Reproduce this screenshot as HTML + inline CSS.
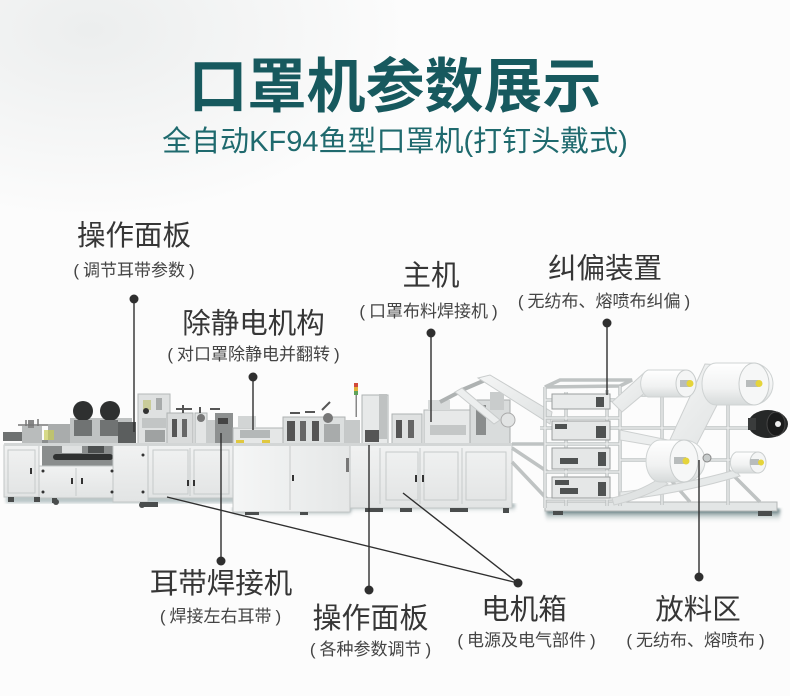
<!DOCTYPE html>
<html><head><meta charset="utf-8">
<style>
html,body{margin:0;padding:0;}
body{width:790px;height:696px;position:relative;overflow:hidden;background:#fcfcfc;font-family:"Liberation Sans","Noto Sans CJK SC",sans-serif;}
.bg{position:absolute;left:0;top:0;width:790px;height:696px;background:radial-gradient(ellipse 320px 190px at 90px 30px,#eceeee 0%,rgba(252,252,252,0) 100%);}
.t{position:absolute;width:400px;text-align:center;white-space:nowrap;line-height:1;}
.h{font-size:28.5px;color:#363636;}
.s{font-size:17px;color:#444;}
.s i{font-style:normal;margin:0 4px;}
.title{position:absolute;left:0;width:790px;text-align:center;white-space:nowrap;line-height:1;}
</style></head><body>
<div class="bg"></div>

<svg width="790" height="696" viewBox="0 0 790 696" style="position:absolute;left:0;top:0">
<defs>
<linearGradient id="cab" x1="0" y1="0" x2="0" y2="1"><stop offset="0" stop-color="#f1f2f2"/><stop offset="1" stop-color="#e2e4e4"/></linearGradient>
<linearGradient id="cab2" x1="0" y1="0" x2="1" y2="0"><stop offset="0" stop-color="#f5f6f6"/><stop offset="1" stop-color="#e5e7e7"/></linearGradient>
<linearGradient id="sh" x1="0" y1="0" x2="0" y2="1"><stop offset="0" stop-color="#2c4f53"/><stop offset="1" stop-color="#fcfcfc" stop-opacity="0"/></linearGradient>
<linearGradient id="rollg" x1="0" y1="0" x2="0" y2="1"><stop offset="0" stop-color="#ffffff"/><stop offset="0.6" stop-color="#f1f2f2"/><stop offset="1" stop-color="#d6dada"/></linearGradient>
<linearGradient id="band" x1="0" y1="0" x2="1" y2="1"><stop offset="0" stop-color="#f4f5f5"/><stop offset="1" stop-color="#dfe2e2"/></linearGradient>
<filter id="b2"><feGaussianBlur stdDeviation="1.5"/></filter>
</defs>

<!-- floor shadows -->
<rect x="6" y="494" width="230" height="9" fill="#8fa3a5" filter="url(#b2)" opacity="0.6"/>
<rect x="233" y="508" width="118" height="9" fill="url(#sh)" filter="url(#b2)"/>
<rect x="350" y="504" width="165" height="9" fill="url(#sh)" filter="url(#b2)" opacity="0.75"/>
<rect x="546" y="509" width="234" height="14" fill="url(#sh)" filter="url(#b2)"/>

<!-- upper mechanisms left -->
<rect x="3" y="432" width="22" height="9" fill="#6e7171"/>
<rect x="22" y="426" width="20" height="19" fill="#b9bcbc"/>
<rect x="28" y="420" width="6" height="8" fill="#888"/>
<path d="M18 425 h30 M26 420 v6 M38 419 v7" stroke="#777" stroke-width="1.5"/>
<rect x="42" y="440" width="72" height="27" fill="#8a8d8d"/>
<rect x="48" y="424" width="22" height="20" fill="#a9acac"/>
<rect x="70" y="418" width="62" height="27" fill="#bfc2c2"/>
<circle cx="83" cy="411" r="10" fill="#2e3030"/>
<circle cx="110" cy="411" r="10" fill="#2e3030"/>
<rect x="74" y="420" width="18" height="16" fill="#707373"/>
<rect x="100" y="420" width="18" height="16" fill="#707373"/>
<rect x="118" y="422" width="18" height="22" fill="#5b5e5e"/>
<rect x="53" y="454" width="60" height="6" rx="3" fill="#2f3131"/>
<rect x="62" y="444" width="20" height="9" fill="#dfe1e1"/>
<rect x="88" y="446" width="16" height="7" fill="#4c4f4f"/>
<rect x="44" y="430" width="10" height="10" fill="#c8cc55" opacity="0.7"/>
<rect x="138" y="394" width="32" height="51" fill="#dfe1e1" stroke="#b5b9b9"/>
<rect x="143" y="400" width="8" height="10" fill="#c9cc99"/>
<rect x="156" y="398" width="6" height="12" fill="#a8abab"/>
<circle cx="146" cy="411" r="3" fill="#333"/>
<rect x="142" y="418" width="24" height="10" fill="#c2c5c5"/>
<rect x="145" y="430" width="20" height="12" fill="#9fa2a2"/>
<rect x="167" y="413" width="26" height="32" fill="#d9dbdb" stroke="#aeb2b2"/>
<rect x="172" y="419" width="5" height="18" fill="#555"/>
<rect x="182" y="419" width="5" height="18" fill="#666"/>
<rect x="195" y="413" width="12" height="32" fill="#e3e5e5" stroke="#aeb2b2"/>
<circle cx="201" cy="418" r="4" fill="#777"/>
<rect x="207" y="420" width="8" height="25" fill="#c8cbcb"/>
<rect x="215" y="413" width="18" height="32" fill="#8d9090"/>
<rect x="218" y="418" width="10" height="6" fill="#444"/>
<path d="M176 409 h16 M200 407 v6 M183 405 v8 M210 409 h10" stroke="#555" stroke-width="2"/>

<!-- upper mechanisms middle -->
<rect x="233" y="428" width="50" height="16" fill="#e5e7e7" stroke="#b1b5b5"/>
<rect x="238" y="416" width="18" height="12" fill="#d2d5d5"/>
<rect x="240" y="430" width="30" height="8" fill="#b4b8b8"/>
<rect x="236" y="440" width="8" height="4" fill="#e0c840"/>
<rect x="262" y="440" width="8" height="4" fill="#e0c840"/>
<rect x="283" y="417" width="62" height="27" fill="#dcdfdf" stroke="#aeb2b2"/>
<rect x="287" y="421" width="8" height="20" fill="#555"/>
<rect x="300" y="421" width="6" height="20" fill="#666"/>
<rect x="312" y="421" width="7" height="20" fill="#555"/>
<rect x="324" y="424" width="16" height="18" fill="#a8abab"/>
<circle cx="328" cy="418" r="5" fill="#777"/>
<path d="M290 413 h10 M305 412 h10 M322 410 l8 -8" stroke="#555" stroke-width="2"/>
<rect x="345" y="420" width="15" height="24" fill="#c6c9c9"/>
<rect x="354" y="383" width="4" height="4" fill="#d24a3a"/>
<rect x="354" y="387" width="4" height="4" fill="#e2b23a"/>
<rect x="354" y="391" width="4" height="4" fill="#5fa35a"/>
<rect x="355.5" y="395" width="1.5" height="22" fill="#888"/>
<rect x="362" y="395" width="26" height="50" fill="#e7e9e9" stroke="#aeb2b2"/>
<rect x="379" y="394" width="8" height="45" fill="#bfc2c2"/>
<rect x="365" y="430" width="14" height="12" fill="#555"/>
<rect x="392" y="414" width="30" height="30" fill="#dfe1e1" stroke="#aeb2b2"/>
<rect x="396" y="420" width="6" height="18" fill="#555"/>
<rect x="408" y="420" width="6" height="18" fill="#666"/>
<rect x="424" y="410" width="46" height="34" fill="#e7e9e9" stroke="#b3b7b7"/>
<rect x="428" y="400" width="22" height="10" fill="#d8dbdb"/>
<rect x="430" y="425" width="36" height="10" fill="#c4c7c7"/>
<path d="M440 402 L463 390 M462 390 L490 378" stroke="#aeb2b2" stroke-width="4"/>
<rect x="470" y="400" width="40" height="44" fill="#d9dcdc" stroke="#a9adad"/>
<rect x="476" y="405" width="10" height="30" fill="#8a8d8d"/>
<rect x="490" y="392" width="14" height="18" fill="#c9cccc"/>
<circle cx="508" cy="420" r="7" fill="#e2e4e4" stroke="#aaa"/>
<!-- web band from machine to frame -->
<polygon points="478,378 490,375 552,412 550,424" fill="url(#band)" stroke="#c9cccc"/>
<polygon points="455,392 462,388 500,420 494,424" fill="#eceeee" stroke="#c9cccc"/>

<!-- cabinets -->
<g stroke="#c2c6c6" stroke-width="1">
<rect x="4" y="445" width="35" height="52" fill="url(#cab)"/>
<rect x="39" y="466" width="74" height="32" fill="url(#cab)"/>
<rect x="113" y="445" width="35" height="57" fill="url(#cab)"/>
<rect x="148" y="445" width="85" height="53" fill="url(#cab)"/>
<rect x="233" y="444" width="117" height="68" fill="url(#cab2)"/>
<rect x="350" y="445" width="162" height="63" fill="url(#cab)"/>
</g>
<rect x="4" y="443" width="508" height="3" fill="#d3d6d6"/>
<g stroke="#c6caca" stroke-width="1" fill="none">
<rect x="8" y="450" width="27" height="43"/>
<path d="M76 468 V496 M190 448 V496 M290 446 V510 M380 448 V504 M420 448 V504 M462 448 V504"/>
<rect x="153" y="450" width="35" height="44"/>
<rect x="194" y="450" width="35" height="44"/>
<rect x="386" y="452" width="32" height="48"/>
<rect x="424" y="452" width="34" height="48"/>
<rect x="466" y="452" width="40" height="48"/>
</g>
<g fill="#333">
<circle cx="43" cy="471" r="1.5"/><circle cx="43" cy="492" r="1.5"/>
<circle cx="112" cy="471" r="1.5"/><circle cx="112" cy="492" r="1.5"/>
<circle cx="143" cy="455" r="1.5"/><circle cx="143" cy="492" r="1.5"/>
<rect x="30" y="468" width="2" height="6"/>
<rect x="187" y="480" width="2" height="6"/><rect x="193" y="480" width="2" height="6"/>
<rect x="292" y="475" width="2" height="6"/>
<rect x="346" y="458" width="3" height="14" fill="#777"/>
<rect x="415" y="475" width="2" height="7"/><rect x="422" y="475" width="2" height="7"/>
<rect x="71" y="478" width="2" height="6"/><rect x="81" y="478" width="2" height="6"/>
</g>
<!-- feet -->
<g fill="#4a4d4d">
<rect x="8" y="497" width="6" height="5"/><rect x="34" y="497" width="6" height="5"/>
<rect x="52" y="498" width="5" height="5"/><circle cx="56" cy="502" r="3"/>
<rect x="140" y="502" width="18" height="5"/><circle cx="142" cy="505" r="3"/>
<rect x="245" y="512" width="14" height="3"/><rect x="300" y="512" width="8" height="3"/>
<rect x="365" y="508" width="18" height="4"/><rect x="400" y="508" width="12" height="4"/>
<rect x="450" y="508" width="18" height="4"/><rect x="503" y="508" width="6" height="5"/>
</g>

<!-- right unwinder frame -->
<rect x="545" y="502" width="232" height="9" fill="#e3e6e6" stroke="#b3b7b7"/>
<g stroke="#bfc3c3" stroke-width="3.5" fill="none">
<path d="M545 387 V508 M566 392 V506 M607 390 V506 M620 386 V506"/>
<path d="M545 400 H620 M545 418 H620 M545 444 H620 M545 472 H620 M545 499 H620"/>
<path d="M545 387 L560 380 H632 L620 386 Z"/>
<path d="M662 395 V505 M728 395 V505"/>
<path d="M620 395 H745 M540 428 H785 M620 460 H748"/>
<path d="M512 448 L548 472 M512 462 L548 500 M512 444 L545 444"/>
<path d="M662 470 L690 502 M728 470 L760 502"/>
</g>
<g stroke="#eef0f0" stroke-width="1.2" fill="none">
<path d="M545 387 V508 M566 392 V506 M607 390 V506 M620 386 V506"/>
<path d="M545 400 H620 M545 418 H620 M545 444 H620 M545 472 H620 M545 499 H620"/>
<path d="M662 395 V505 M728 395 V505 M620 395 H745 M540 428 H785 M620 460 H748"/>
</g>
<!-- drawer units -->
<g stroke="#9a9e9e" stroke-width="1">
<rect x="552" y="394" width="58" height="15" fill="#e8eaea"/>
<rect x="552" y="421" width="58" height="19" fill="#e5e7e7"/>
<rect x="552" y="448" width="58" height="21" fill="#e5e7e7"/>
<rect x="552" y="477" width="58" height="21" fill="#e5e7e7"/>
</g>
<g fill="#4f5252">
<rect x="596" y="397" width="8" height="10"/>
<rect x="555" y="424" width="12" height="5"/><rect x="596" y="426" width="10" height="12"/>
<rect x="560" y="458" width="18" height="6"/><rect x="598" y="452" width="8" height="14"/>
<rect x="555" y="480" width="14" height="5"/><rect x="560" y="488" width="18" height="6"/><rect x="598" y="482" width="8" height="14"/>
</g>

<!-- web bands -->
<polygon points="705,364 737,366 696,446 668,444" fill="url(#band)" stroke="#cdd0d0"/>
<polygon points="645,372 660,380 622,412 612,402" fill="url(#band)" stroke="#cdd0d0"/>
<path d="M735 470 C700 480 660 488 620 492 L620 500 C660 496 700 488 740 476 Z" fill="#e6e9e9" stroke="#cdd0d0"/>
<path d="M660 478 C645 488 630 494 612 498 L614 505 C635 500 650 494 668 484 Z" fill="#e0e3e3" stroke="#cdd0d0"/>
<polygon points="620,430 668,440 668,448 620,440" fill="#eceeee" stroke="#cdd0d0"/>

<!-- rolls -->
<path d="M648 370 H686 A14 14 0 0 1 686 397 H648 A10 14 0 0 1 648 370 Z" fill="url(#rollg)" stroke="#cfd3d3"/>
<ellipse cx="686" cy="383.5" rx="10" ry="13.5" fill="#f4f5f5" stroke="#c9cdcd"/>
<rect x="680" y="380" width="10" height="7" fill="#b8bcbc"/>
<circle cx="690" cy="383.5" r="3.5" fill="#e5d43a"/>
<path d="M716 363 H752 A21 21 0 0 1 752 405 H716 A14 21 0 0 1 716 363 Z" fill="url(#rollg)" stroke="#cfd3d3"/>
<ellipse cx="754" cy="384" rx="15" ry="21" fill="#f6f7f7" stroke="#c9cdcd"/>
<rect x="746" y="380" width="12" height="7" fill="#b8bcbc"/>
<circle cx="759" cy="383.5" r="3.5" fill="#e5d43a"/>
<ellipse cx="768" cy="424" rx="20" ry="14" fill="#262828"/>
<ellipse cx="776" cy="424" rx="9" ry="12" fill="#1a1b1b" stroke="#444"/>
<circle cx="778" cy="424" r="3" fill="#eee"/>
<rect x="748" y="418" width="8" height="12" fill="#3a3c3c"/>
<path d="M660 440 H684 A21 21 0 0 1 684 482 H660 A14 21 0 0 1 660 440 Z" fill="url(#rollg)" stroke="#cfd3d3"/>
<ellipse cx="684" cy="461" rx="14" ry="21" fill="#f6f7f7" stroke="#c9cdcd"/>
<rect x="674" y="457" width="12" height="7" fill="#b8bcbc"/>
<circle cx="686" cy="461" r="3.5" fill="#e5d43a"/>
<path d="M736 452 H758 A11 11 0 0 1 758 473 H736 A8 11 0 0 1 736 452 Z" fill="url(#rollg)" stroke="#cfd3d3"/>
<ellipse cx="758" cy="462.5" rx="8" ry="10.5" fill="#f4f5f5" stroke="#c9cdcd"/>
<rect x="750" y="459" width="9" height="6" fill="#b8bcbc"/>
<circle cx="761" cy="462.5" r="3" fill="#e5d43a"/>
<circle cx="707" cy="458" r="4" fill="#c8cccc" stroke="#888"/>
<g fill="#4a4d4d">
<rect x="553" y="511" width="10" height="4"/><rect x="758" y="511" width="14" height="5"/>
</g>

<!-- connector lines -->
<g stroke="#2f2f2f" stroke-width="1.4" fill="none">
<path d="M134 299 V432"/>
<path d="M253 377 V430"/>
<path d="M431 333 V422"/>
<path d="M607 323 V395"/>
<path d="M221 433 V561"/>
<path d="M369 445 V590"/>
<path d="M167 497 L518 583"/>
<path d="M403 493 L518 583"/>
<path d="M699 460 V577"/>
</g>
<g fill="#2f2f2f">
<circle cx="134" cy="299" r="4.5"/>
<circle cx="253" cy="377" r="4.5"/>
<circle cx="431" cy="333" r="4.5"/>
<circle cx="607" cy="323" r="4.5"/>
<circle cx="221" cy="561" r="4.5"/>
<circle cx="369" cy="590" r="4.5"/>
<circle cx="518" cy="583" r="4.5"/>
<circle cx="699" cy="577" r="4.5"/>
</g>
</svg>

<div class="title" style="top:58px;font-size:59px;font-weight:bold;color:#17595e;">口罩机参数展示</div>
<div class="title" style="top:128px;font-size:29px;color:#1f6a6e;">全自动KF94鱼型口罩机(打钉头戴式)</div>

<div class="t h" style="left:-66px;top:222px;">操作面板</div>
<div class="t s" style="left:-66px;top:262px;">(<i>调节耳带参数</i>)</div>

<div class="t h" style="left:53.5px;top:310px;">除静电机构</div>
<div class="t s" style="left:53.5px;top:346px;">(<i>对口罩除静电并翻转</i>)</div>

<div class="t h" style="left:231px;top:262px;">主机</div>
<div class="t s" style="left:228.5px;top:303px;">(<i>口罩布料焊接机</i>)</div>

<div class="t h" style="left:405px;top:255px;">纠偏装置</div>
<div class="t s" style="left:404px;top:293px;">(<i>无纺布、熔喷布纠偏</i>)</div>

<div class="t h" style="left:21px;top:570px;">耳带焊接机</div>
<div class="t s" style="left:20.5px;top:608px;">(<i>焊接左右耳带</i>)</div>

<div class="t h" style="left:170.5px;top:605px;font-size:29px;">操作面板</div>
<div class="t s" style="left:170.5px;top:641px;">(<i>各种参数调节</i>)</div>

<div class="t h" style="left:324px;top:596px;">电机箱</div>
<div class="t s" style="left:326.5px;top:632px;">(<i>电源及电气部件</i>)</div>

<div class="t h" style="left:498px;top:596px;">放料区</div>
<div class="t s" style="left:495.5px;top:632px;">(<i>无纺布、熔喷布</i>)</div>
</body></html>
